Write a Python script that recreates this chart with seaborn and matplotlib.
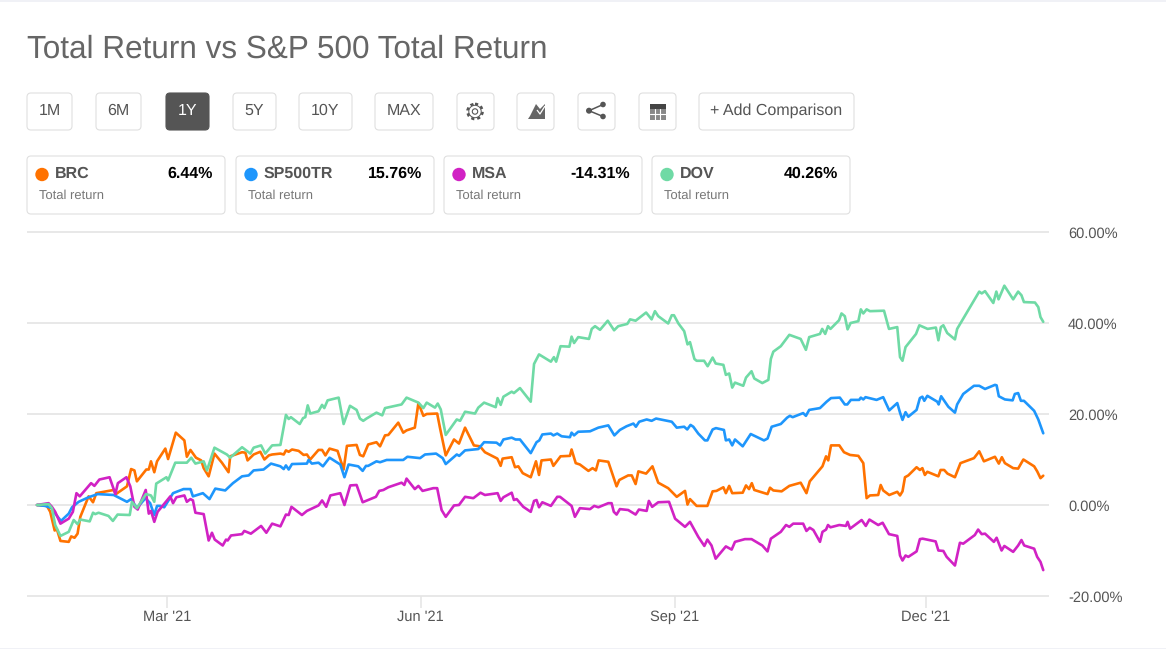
#!/usr/bin/env python3
"""Total return comparison chart, one year, with the page controls above it"""

import matplotlib
matplotlib.use('Agg')
import matplotlib.pyplot as plt
from matplotlib.patches import Circle, FancyBboxPatch, Polygon, Rectangle
import pandas as pd
import seaborn as sns

START_DATE = '2021-01-13'

BRC_DAYS = [0, 3.6, 4.8, 6.4, 7.2, 8.5, 11.5, 12.4, 13.6, 14.7, 15.7, 18.7, 20.3, 21.5, 27.8, 28.6, 32.6, 34.1, 35.3,
            36.2, 39.6, 40.5, 41.3, 42.5, 43.5, 46.5, 47.5, 48.9, 50.3, 53.4, 54.3, 55.6, 57.6, 59.5, 60.4, 62.2,
            64.3, 67, 69.4, 70, 74.3, 75.5, 76.3, 78.5, 80.9, 82.4, 84, 85.2, 88.2, 89.4, 90.2, 91.2, 92.4, 94.8,
            96.6, 97.8, 99, 102, 103.3, 104.5, 106, 108.9, 111.1, 112.3, 115.8, 117, 118.2, 120, 123, 124.3, 126.1,
            127.3, 130.9, 132.7, 133.9, 136.9, 138.2, 140, 141.2, 145, 146, 148.1, 151.1, 152.9, 155.1, 158.3, 160.5,
            162.3, 166.8, 168, 168.7, 172, 173.2, 174.4, 176, 178.9, 180.8, 181.9, 182.8, 186.2, 187.1, 189.7, 193.1,
            193.7, 195.2, 196.7, 199.8, 201.3, 202.5, 203.5, 207, 210, 211, 214.2, 215.5, 216.9, 217.9, 220.7, 223,
            225.1, 228.7, 231.8, 234.8, 235.7, 236.6, 239, 242.9, 244.8, 246.2, 248.7, 249.6, 250.8, 251.9, 255.7,
            256.9, 258, 259, 259.9, 264.7, 265.6, 266.8, 269.8, 272.6, 276.7, 278.8, 280, 284.6, 285.9, 286.7, 287.7,
            290.7, 292.4, 294.6, 297.6, 299.4, 300.6, 301.8, 304.8, 305.7, 306.6, 308.8, 311.7, 312.7, 313.6, 314.5,
            315.7, 318.7, 319.9, 320.8, 321.7, 322.6, 326.6, 327.4, 328.7, 329.9, 332.6, 334.6, 339.5, 341.4, 343.1,
            347.1, 348.5, 349.6, 350.7, 353.7, 355.5, 357.4, 361.3, 362.4, 363.6, 364.6]
BRC_VALUES = [0, -0.2, -1.5, -5.6, -5.3, -7.9, -8.1, -6.9, -7.2, -6.3, -2.6, 1.9, 0.6, 2.6, 3.3, 2.4, 4.1, 7.9, 7.6,
              5.2, 7.8, 7.8, 9.6, 7.2, 9.6, 12.4, 10.1, 13, 15.9, 14.2, 10.6, 12.1, 10.4, 9.8, 8.1, 6.3,
              11.3, 9.3, 7.2, 10.7, 11.6, 11.5, 9.8, 11.1, 11.7, 10, 10.9, 11.1, 11.3, 11.1, 12, 11.7, 12.2, 11.9,
              11, 11.1, 10, 12.1, 12.1, 10.9, 12.4, 11.9, 7.8, 13, 13.2, 11, 10.7, 13.3, 13.8, 12.9, 15.3,
              15.4, 18.1, 15.9, 16.4, 17, 22.4, 19.6, 20, 20.1, 17, 10.9, 14.4, 13.5, 17, 13.1, 12.9,
              11.6, 10.2, 8.6, 10.2, 10.5, 8.3, 8.5, 7, 6.1, 9.6, 6.6, 9.8, 10, 8.6, 10.7, 10.8,
              12.2, 9.2, 8.9, 7.5, 8.1, 7.6, 9.8, 9.5, 4.1, 5.5, 6.5, 6.5, 4.6, 7.4, 6.9, 8.5,
              4.9, 3.7, 1.8, 3.1, 0.1, 1.3, -0.2, -0.2, 3, 3.1, 3.9, 2.6, 4.2, 2.6, 2.7,
              4.3, 3.5, 4.8, 3.3, 2.4, 3.8, 3.2, 3, 4.2, 4.9, 2.6, 5.2, 8.5, 10.7, 9.8, 13.1,
              13.1, 11.6, 11, 10.8, 9.2, 1.5, 2.1, 2.2, 4.4, 3.2, 2.2, 2.9, 2.1, 3, 6.1,
              6.5, 8.3, 7.7, 8.1, 6.6, 7.3, 6.3, 7.7, 7.7, 6.9, 6.1, 9.2, 10.3, 11.8, 9.6,
              10.6, 9.1, 10.5, 9.2, 8.1, 8, 10, 8.5, 7.4, 5.9, 6.44]

SP500_DAYS = [0, 3, 5.4, 6.6, 8.7, 11.5, 12.7, 15.1, 18.7, 22, 27.8, 32.6, 34.1, 36.2, 39.3, 41, 42.5, 43.5, 44.7, 46.1,
              49.3, 53.1, 55.6, 56.5, 60.1, 62.5, 64.6, 68.2, 71, 74.3, 76.7, 78.5, 82.1, 84.8, 88.2, 89.4, 90.2, 91.2,
              92.4, 97.8, 98.4, 99.6, 102, 103.6, 106, 109.9, 111.4, 112.9, 116.4, 118, 119.2, 120, 123, 124.3, 126.7,
              132.7, 134.2, 138.8, 140.6, 144.6, 147, 148.1, 152.1, 153, 155.1, 159.9, 162, 166.5, 167.8, 169, 172,
              173.4, 175, 178.9, 181, 182, 183.1, 186.2, 187.1, 188.5, 190.1, 193.1, 193.7, 194.6, 196.1, 200.4, 203.4,
              207, 209.2, 211.2, 213.6, 216.1, 217, 218.2, 220.9, 222.7, 224.3, 230, 231.8, 234.5, 235.6, 236.8, 237.8,
              239.6, 242, 242.9, 244.8, 246, 248.9, 249.6, 250.8, 251.9, 252.9, 255.7, 257.1, 258.6, 263.4, 264.7,
              266.2, 269.5, 271.8, 272.8, 273.8, 277.6, 278.6, 279.8, 283.7, 286.1, 287.7, 290.9, 292.7, 293.6, 294.9,
              297.9, 298.5, 299.4, 300.2, 304.2, 306.6, 308.8, 311.7, 312.7, 313.6, 314.7, 315.7, 318.7, 319.9, 320.8,
              321.5, 322.6, 326.2, 326.7, 327.6, 330.2, 332.6, 333.4, 335.6, 339.5, 341.4, 343.5, 347.1, 347.7, 348.5,
              350.7, 353.5, 354.3, 355.5, 356.5, 357.6, 361.3, 362.8, 364.6]
SP500_VALUES = [0, -0.2, -0.7, -1.9, -3.5, -1.9, -0.5, 0.7, 1.7, 2.4, 2.2, 0.7, 1.3, -0.7, 1.5, 0.4, -2.2, -0.2, -0.2, -0.5,
                2.6, 3.5, 3.5, 1.9, 2.6, 1.3, 3.6, 3.2, 4.8, 6.3, 6.5, 7.6, 7.8, 9.1, 8.5, 7.9, 8.7, 7.8,
                9, 9.1, 9.9, 9.1, 9.3, 8.5, 10.4, 8.9, 6.1, 8.9, 8.5, 7.5, 8.6, 8.6, 9.6, 9.4, 9.9,
                9.9, 10.6, 10.3, 11.1, 11.3, 10.3, 9, 11.1, 10.8, 12, 12.3, 13.8, 13.7, 13.1, 14.4, 14.8,
                14.4, 14.4, 11.4, 13.8, 14.2, 15.5, 15.7, 15.3, 15.7, 15.1, 14.9, 15.9, 15.3, 16.1, 16.2, 17,
                17.5, 15.3, 16.5, 17.3, 17.9, 17.2, 18.3, 18.8, 18.5, 19, 18.3, 17, 17.2, 16.6, 17.6, 17.2,
                15.7, 14.2, 14.2, 16.6, 16.9, 16.5, 14.2, 14.4, 13.1, 14.4, 12.9, 14.2, 15.6, 14.2, 14.6,
                17.2, 17.8, 19.2, 19.6, 19.3, 20.2, 19.6, 20.9, 21.3, 22.7, 23.5, 23.6, 22.1, 22.1, 23.1,
                23.1, 23.6, 23.2, 23.7, 23.1, 23.7, 20.8, 22.4, 20.3, 18.7, 20.4, 19.4, 20.9, 23.5, 23.8,
                22.9, 24, 22.7, 22.1, 23.9, 21.6, 20.3, 22.1, 24.4, 26.2, 26.2, 25.5, 26.4, 26.3, 23.9,
                23.2, 23, 24.4, 24.6, 22.9, 22.9, 20.7, 18.8, 15.76]

MSA_DAYS = [0, 4.2, 5.4, 6.6, 8.5, 11.5, 13, 14.3, 15.5, 19.6, 20.8, 22.6, 26.3, 28.4, 29.3, 32.4, 33.8, 35.3, 36.5,
            39.4, 40.5, 41.3, 42.5, 43.7, 47.1, 48.3, 49.3, 50.5, 53.4, 54.3, 55.6, 56.5, 57.4, 60.4, 62.2, 63.4,
            64.4, 67.3, 68.5, 69.1, 70.3, 74.3, 75.1, 77.5, 81.2, 83.1, 85.2, 88.2, 90.2, 91.2, 92.2, 96, 97.8, 102,
            103.3, 104.8, 106.3, 109.9, 111.4, 113.5, 115.8, 118, 122.8, 124, 125.5, 127.3, 132.1, 133.1, 133.9,
            136.9, 138.2, 139.7, 143.6, 145, 146.6, 148.1, 151.1, 152.9, 155.1, 158.1, 160.7, 162.3, 166.9, 168, 169,
            172, 172.8, 173.8, 176.2, 178.9, 180.1, 181, 181.9, 183.1, 186.2, 188.5, 189.5, 193.7, 194.9, 196.7,
            200.4, 201.9, 203.4, 207, 208.2, 209, 210, 211.2, 214.2, 216.9, 218.1, 220.9, 221.7, 222.9, 225.1, 229,
            231.2, 234.8, 236.6, 239.6, 241.8, 242.9, 244.4, 245.9, 249.6, 251.7, 252.9, 256.5, 258.9, 262.8, 264.7,
            265.9, 269.5, 271.4, 272.6, 274, 277.6, 278.8, 280, 281.3, 283.7, 284.6, 285.9, 286.6, 287.5, 290.7,
            293.1, 293.7, 294.6, 298.8, 300.3, 301.6, 304.8, 306.4, 308.7, 311.7, 312.7, 313.6, 314.7, 315.7, 318.7,
            319.9, 320.9, 325.6, 326.6, 328.4, 329.6, 332.6, 334.4, 335.6, 339.8, 341, 342.3, 343.5, 346.7, 347.7,
            349.5, 350.5, 353.7, 355.5, 356.7, 357.7, 361.3, 362.4, 363.6, 364.6]
MSA_VALUES = [0, 0.4, -0.4, -1.5, -4.1, -3, -1.5, 2.6, 1.9, 4.8, 4.2, 5.6, 6.1, 2.4, 4.8, 6.1, 4.1, -0.4, -1,
              3.3, -1.9, -1.3, -3.7, -1.5, 1, 1.9, 0.4, 1.7, 2.1, 0.7, 1.3, 1, -1.7, -2, -7.8, -6.1,
              -7.6, -8.9, -7.6, -7.8, -6.7, -6.4, -5.7, -6.3, -4.6, -6.1, -4.1, -4.7, -2.1, -2.2, -0.4, -2.2, -1.3, -0.1,
              1, -0.4, 2.1, 2.6, 0, 4.3, 4.4, 0.6, 1.8, 3.1, 3.3, 3.9, 4.9, 4.4, 5.8,
              3.5, 4.2, 3.1, 3.7, 3.7, -1.1, -2.6, -0.1, 0, 1.8, 1.5, 2.7, 2.2, 2.6, 0.9, 1.7,
              2.7, 1.1, 1.3, -0.4, -1.5, 0.9, 1.1, -0.5, 0.6, -0.2, 1.8, 1.8, -0.2, -2.6, -0.7,
              -0.9, -0.2, -0.5, 0.4, 0.4, -1.5, -2.1, -0.9, -1.1, -2.1, -1, -1.3, 0.9, -0.4, 0.6, 0.7,
              -3, -4.8, -3.7, -7, -9, -7.6, -8.9, -11.8, -9.1, -9.8, -8.1, -7.5, -7.5, -8.9, -10.2,
              -7.4, -5.9, -4.4, -4.8, -4.1, -4.1, -5.7, -5, -5.5, -8.1, -5.9, -5.4, -4.4, -4.9, -4.4,
              -4.6, -3.7, -5.2, -3.3, -4.6, -3.2, -4.4, -3.9, -6.4, -6.8, -11.1, -12.2, -11.1, -11.4, -10.2,
              -7.5, -7.4, -8, -10, -10.1, -11.4, -13.3, -8.3, -8.5, -6.6, -5.4, -6.4, -6.3, -8.1, -7.2,
              -10, -9, -10.3, -8.9, -7.7, -8.9, -9.6, -11.4, -12.5, -14.31]

DOV_DAYS = [0, 4.2, 5.4, 6.6, 8.5, 11.5, 13.3, 14.7, 15.7, 19.1, 20.3, 21.1, 22.3, 25.9, 27.5, 29.2, 33.6, 34.4, 36.2,
            39.5, 41.3, 42.5, 43.2, 46.9, 47.5, 50.1, 54.3, 55.9, 57.4, 60.4, 61.6, 64.3, 68.8, 70, 74.3, 77.3, 78.5,
            81.2, 82.7, 85.2, 88.2, 90.2, 91.2, 92, 95.2, 96.4, 97.2, 98.1, 99, 102, 103.3, 104.1, 105.3, 109.3,
            111.1, 113.4, 115.8, 117, 118.2, 119.4, 123, 125.1, 126.1, 132.1, 133.9, 138.2, 140, 141.2, 144.2, 145.2,
            146.3, 148.1, 152.1, 153.3, 155.1, 158.7, 159.9, 162, 166.2, 166.9, 168, 169, 172, 172.8, 175, 178.9,
            180.1, 181.9, 186.2, 187.3, 188.1, 189.7, 192.9, 193.7, 194.6, 196.1, 200, 201, 202.2, 204, 206.8, 209.1,
            210.6, 213.9, 214.9, 216.9, 220.7, 222.7, 223.9, 225.1, 228.7, 230, 230.8, 232.4, 234.5, 235.7, 236.6,
            238.2, 239, 241.7, 243, 244.8, 245.9, 248.7, 249.6, 250.8, 251.9, 252.9, 255.9, 256.9, 258.9, 259.9,
            262.8, 265, 265.9, 266.8, 269.5, 272.6, 276.7, 278.6, 279.8, 283.7, 284.5, 285.6, 286.6, 287.5, 290.6,
            291.5, 292.7, 293.7, 294.8, 297.6, 298.5, 299.4, 300.6, 301.8, 306.9, 308.7, 311.7, 312.7, 313.6, 314.7,
            318.5, 319.7, 322.7, 325.7, 326.6, 327.5, 328.4, 329.8, 332.6, 333.4, 341.4, 342.3, 343.5, 346.5, 347.6,
            348.4, 350.5, 353.7, 355.5, 356.7, 357.6, 361.6, 362.8, 363.6, 364.6]
DOV_VALUES = [0, 0.2, -0.7, -4.4, -6.8, -5.9, -3.3, -4.2, -3.2, -3.6, -1.7, -2, -1.7, -2.4, -3.5, -2.1, -2.2, 0.7, -0.7,
              2.4, 2.1, 0.7, 4.7, 6.1, 5.4, 9.3, 9.3, 10.4, 9.1, 9.6, 7.6, 12.6, 11.1, 10.4, 12.7, 11.3, 12.6,
              13.1, 11.3, 13.1, 13.2, 19.8, 18.9, 19.3, 17.8, 19.1, 19.3, 21.9, 20.1, 20.6, 22, 21.3, 23, 23.6,
              17.8, 21.8, 20.9, 19, 18.5, 19, 20.3, 19.7, 21.3, 22.1, 23.6, 22.5, 21.3, 22.5, 21.4, 22.3,
              21, 15.4, 18.8, 18.5, 20.5, 20.1, 21.4, 22.5, 21.5, 23.5, 22, 23.8, 24.9, 24.6, 25.7, 22.7,
              31, 33.1, 31.5, 32.5, 31.5, 34.9, 34.8, 37, 35.6, 36.9, 36.5, 38.7, 39.3, 38.5, 40.5, 38.4,
              39.3, 39.8, 40.8, 40.5, 42.3, 40.8, 42.6, 41.5, 39.9, 41.7, 41.7, 39.9, 38.2, 35.3, 35.8,
              32.1, 31.7, 31.7, 30.5, 32.4, 31.1, 30.8, 28.6, 28.9, 25.8, 26.9, 26.2, 28, 29.4, 27.8,
              26.8, 27.5, 32.1, 33.7, 34.9, 37.4, 36.5, 34.1, 36.9, 37.6, 38.7, 37.6, 39.3, 38.7, 40.6,
              42.1, 41.5, 38.6, 40, 40.4, 43, 42.1, 43, 42.6, 42.7, 38.7, 39.1, 32.5, 31.7, 34.7,
              37.6, 39.5, 38.7, 39, 36.2, 39.1, 39.5, 37.8, 36.4, 38.7, 46.9, 46.5, 47, 44.4, 46.9,
              45.2, 48.2, 45.2, 46.9, 46.1, 44.6, 44.5, 43.5, 41.3, 40.26]

SERIES = ['BRC', 'SP500TR', 'MSA', 'DOV']
COLORS = ['#ff7200', '#1e96fc', '#d122c4', '#6fdaa5']
RETURNS = ['6.44%', '15.76%', '-14.31%', '40.26%']

PERIODS = ['1M', '6M', '1Y', '5Y', '10Y', 'MAX']
Y_TICKS = [-20, 0, 20, 40, 60]
X_TICKS = ['2021-03-01', '2021-06-01', '2021-09-01', '2021-12-01']
X_LABELS = ["Mar '21", "Jun '21", "Sep '21", "Dec '21"]

W, H = 1166, 649
TEXT = '#555555'
BORDER = '#e0e0e0'
GRID = '#e4e4e4'


def build_frame():
    """Long table with one row per point"""
    parts = []
    for name, days, values in [('BRC', BRC_DAYS, BRC_VALUES), ('SP500TR', SP500_DAYS, SP500_VALUES),
                               ('MSA', MSA_DAYS, MSA_VALUES), ('DOV', DOV_DAYS, DOV_VALUES)]:
        dates = pd.Timestamp(START_DATE) + pd.to_timedelta(days, unit='D')
        parts.append(pd.DataFrame({'date': dates, 'ret': values, 'series': name}))
    return pd.concat(parts, ignore_index=True)


def box(ui, x0, y0, x1, y1, face='white', edge=BORDER, radius=4):
    ui.add_patch(FancyBboxPatch((x0 + radius, y0 + radius), x1 - x0 - 2 * radius, y1 - y0 - 2 * radius,
                                boxstyle=f'round,pad={radius},rounding_size={radius}',
                                fc=face, ec=edge, lw=0.8))


def draw_icons(ui):
    """Gear, area chart, share and table glyphs"""
    # gear
    ui.add_patch(Circle((475, 111.5), 7.5, fc='none', ec=TEXT, lw=1.9, ls=(0, (1.2, 1.1))))
    ui.add_patch(Circle((475, 111.5), 6.2, fc='white', ec=TEXT, lw=0.7))
    ui.add_patch(Circle((475, 111.5), 2.7, fc='white', ec=TEXT, lw=0.8))

    # area chart with a check mark
    ui.add_patch(Polygon([(528, 119), (530, 116), (536, 104), (540, 109), (545, 104), (545, 119)],
                         fc='#666666', ec='none'))
    ui.plot([537, 540, 545], [110, 114, 106], color='white', lw=0.9, solid_capstyle='butt')

    # share
    ui.plot([603, 589, 603], [104.5, 110.7, 116.5], color=TEXT, lw=1.1)
    for cx, cy, r in [(603, 104.5, 2.8), (589, 110.7, 3.0), (603, 116.5, 2.8)]:
        ui.add_patch(Circle((cx, cy), r, fc=TEXT, ec='none'))

    # table
    ui.add_patch(Rectangle((649.5, 103.5), 16.5, 16, fc='#888888', ec='none'))
    ui.add_patch(Rectangle((649.5, 103.5), 16.5, 5, fc='#444444', ec='none'))
    for gx in [654.8, 660.4]:
        ui.plot([gx, gx], [108.5, 119.5], color='white', lw=0.8)
    ui.plot([649.5, 666], [114, 114], color='white', lw=0.8)


def draw_controls(ui):
    """Title, period buttons, icon buttons and return cards"""
    ui.add_patch(Rectangle((0, 0), W, 2, fc='#f0f1f6', ec='none'))
    ui.add_patch(Rectangle((0, 647.5), W, 1.5, fc='#f0f1f6', ec='none'))
    ui.text(27, 49.5, 'Total Return vs S&P 500 Total Return', fontsize=22.7, color='#666666', va='center')

    # period buttons
    edges = [(27, 72), (96, 141), (166, 209), (233, 276), (299, 352), (375, 433)]
    for label, (x0, x1) in zip(PERIODS, edges):
        active = label == '1Y'
        box(ui, x0, 93, x1, 130, face='#555555' if active else 'white', edge='#555555' if active else BORDER)
        ui.text((x0 + x1) / 2, 111, label, fontsize=11.5, ha='center', va='center',
                color='white' if active else TEXT)

    # icon buttons
    for x0, x1 in [(457, 494), (517, 554), (578, 615), (639, 676)]:
        box(ui, x0, 93, x1, 130)
    draw_icons(ui)

    box(ui, 699, 93, 854, 130)
    ui.text(776.5, 111, '+ Add Comparison', fontsize=11.5, ha='center', va='center', color=TEXT)

    # return cards
    lefts = [27, 236, 444, 652]
    for x0, name, color, ret in zip(lefts, SERIES, COLORS, RETURNS):
        x1 = x0 + 198
        box(ui, x0, 156, x1, 214)
        ui.add_patch(Circle((x0 + 15, 174.5), 6.7, fc=color, ec='none'))
        ui.text(x0 + 28, 174, name, fontsize=11.5, fontweight='bold', color=TEXT, va='center')
        ui.text(x1 - 12, 174, ret, fontsize=11.5, fontweight='bold', color='black', va='center', ha='right')
        ui.text(x0 + 12, 196, 'Total return', fontsize=9.4, color='#777777', va='center')


def main():
    sns.set_theme(style='white')
    plt.rcParams['font.family'] = ['Liberation Sans', 'DejaVu Sans']
    plt.rcParams['text.hinting'] = 'no_hinting'
    plt.rcParams['path.simplify'] = False

    fig = plt.figure(figsize=(W / 100, H / 100), dpi=100, facecolor='white')

    ax = fig.add_axes([27 / W, 1 - 596 / H, 1021.5 / W, 364 / H])
    sns.lineplot(data=build_frame(), x='date', y='ret', hue='series', hue_order=SERIES, palette=COLORS,
                 estimator=None, sort=False, linewidth=1.9, legend=False, ax=ax)
    for line in ax.get_lines():
        line.set_snap(False)
        line.set_solid_joinstyle('round')

    start = pd.Timestamp(START_DATE)
    ax.set_xlim(start - pd.Timedelta(days=3.62), start + pd.Timedelta(days=366.5))
    ax.set_ylim(-20, 60)
    ax.set_xlabel('')
    ax.set_ylabel('')
    sns.despine(ax=ax, left=True, right=True, top=True, bottom=True)
    ax.set_axisbelow(True)
    ax.grid(axis='y', color=GRID, lw=1.2)
    for line in ax.get_ygridlines():
        line.set_clip_on(False)
        line.set_solid_capstyle('butt')

    ax.set_xticks(pd.to_datetime(X_TICKS))
    ax.set_xticklabels(X_LABELS)
    ax.set_yticks(Y_TICKS)
    ax.set_yticklabels([f'{t:.2f}%' for t in Y_TICKS])
    ax.yaxis.tick_right()
    ax.tick_params(axis='x', bottom=True, length=8.5, width=1.1, color=GRID, pad=1.5, labelsize=10.5, labelcolor=TEXT)
    ax.tick_params(axis='y', length=0, pad=14, labelsize=10.5, labelcolor=TEXT)
    for label in ax.get_yticklabels():
        label.set_verticalalignment('center_baseline')

    # overlay in pixel coordinates for the page controls
    ui = fig.add_axes([0, 0, 1, 1], facecolor='none')
    ui.set_xlim(0, W)
    ui.set_ylim(H, 0)
    ui.axis('off')
    draw_controls(ui)

    fig.savefig('out.png', dpi=100)


if __name__ == "__main__":
    main()
